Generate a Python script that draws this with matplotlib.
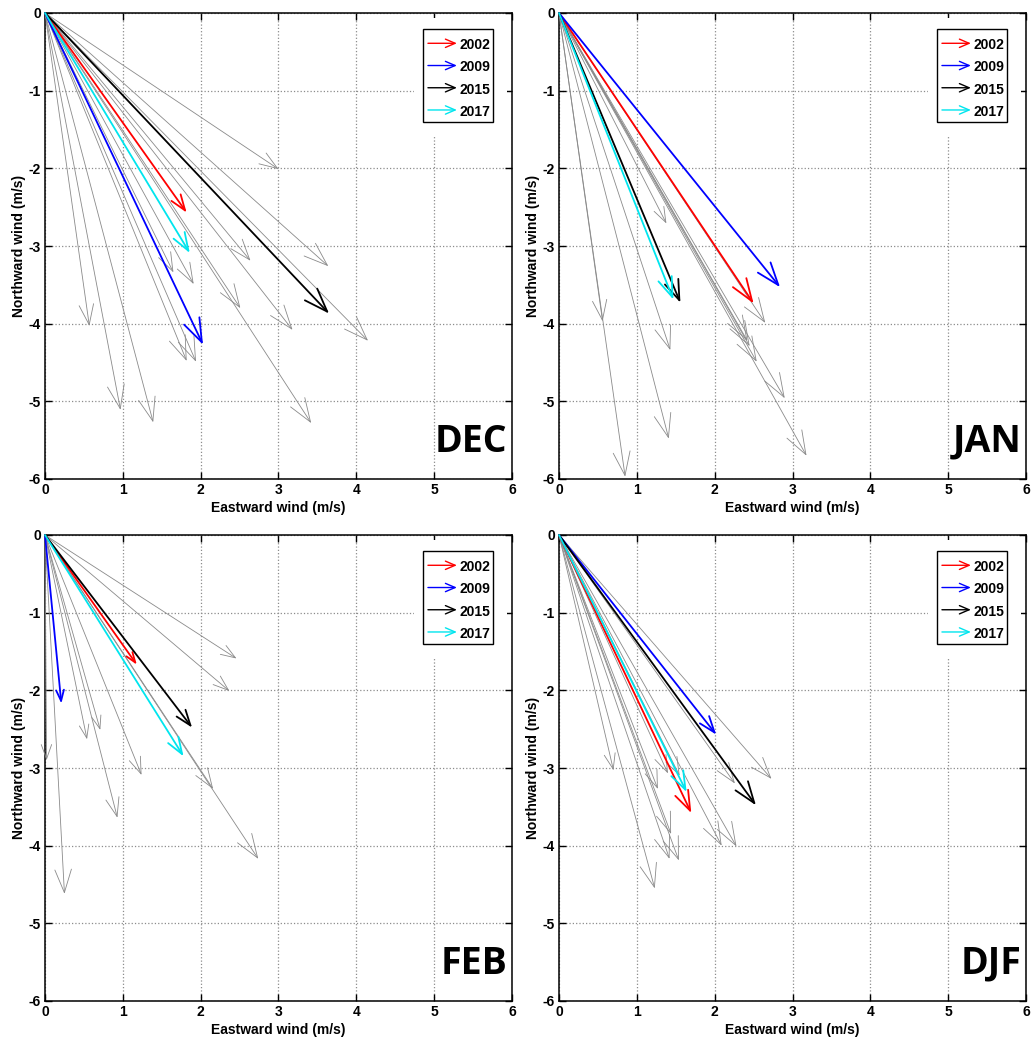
import matplotlib
matplotlib.use("Agg")
import matplotlib.pyplot as plt
import numpy as np
from matplotlib.patches import Rectangle

plt.rcParams["axes.unicode_minus"] = False

# highlighted years and their colours
years_hi = [2002, 2009, 2015, 2017]
colors_hi = ["#ff0000", "#0000ff", "#000000", "#00e5ee"]
panel_names = ["DEC", "JAN", "FEB", "DJF"]

# mean wind vectors (u east, v north) for highlighted years, per panel
dec_u_hi = [1.82, 2.03, 3.65, 1.86]
dec_v_hi = [-2.57, -4.27, -3.87, -3.09]
jan_u_hi = [2.50, 2.84, 1.56, 1.47]
jan_v_hi = [-3.74, -3.53, -3.73, -3.69]
feb_u_hi = [1.18, 0.21, 1.89, 1.78]
feb_v_hi = [-1.67, -2.17, -2.48, -2.85]
djf_u_hi = [1.70, 2.02, 2.53, 1.64]
djf_v_hi = [-3.58, -2.57, -3.48, -3.31]

# other years (gray)
dec_u_gray = [3.00, 1.65, 1.91, 2.64, 3.64, 2.51, 3.18, 4.15, 1.82, 1.94, 3.42, 1.39, 0.97, 0.57]
dec_v_gray = [-2.01, -3.34, -3.49, -3.19, -3.26, -3.80, -4.08, -4.22, -4.48, -4.49, -5.28, -5.27, -5.11, -4.03]
jan_u_gray = [1.38, 2.65, 1.43, 2.45, 2.42, 2.54, 2.90, 3.18, 1.41, 0.85, 0.56]
jan_v_gray = [-2.71, -3.99, -4.34, -4.29, -4.22, -4.49, -4.96, -5.70, -5.48, -5.97, -3.97]
feb_u_gray = [2.46, 2.37, 2.16, 2.74, 1.24, 0.93, 0.71, 0.54, 0.25, 0.02]
feb_v_gray = [-1.59, -2.01, -3.27, -4.17, -3.09, -3.64, -2.51, -2.63, -4.62, -2.90]
djf_u_gray = [0.70, 1.27, 1.40, 1.55, 2.26, 2.73, 1.44, 1.42, 1.54, 2.09, 2.28, 1.23]
djf_v_gray = [-3.03, -3.27, -3.07, -3.10, -3.20, -3.14, -3.85, -4.17, -4.19, -4.00, -4.01, -4.55]

panels = [
    (dec_u_gray, dec_v_gray, dec_u_hi, dec_v_hi),
    (jan_u_gray, jan_v_gray, jan_u_hi, jan_v_hi),
    (feb_u_gray, feb_v_gray, feb_u_hi, feb_v_hi),
    (djf_u_gray, djf_v_gray, djf_u_hi, djf_v_hi),
]

W, H = 1034, 1043
positions = [(45, 13), (559, 13), (45, 535), (559, 535)]  # left, top in px
AW, AH = 467, 466

TICKFONT = dict(family="Liberation Sans", weight="bold", size=10)


def arrow(ax, u, v, color, lw):
    L = np.hypot(u, v)
    hl = min(0.064 * L * 77.8 / 1.389, 17)
    hw = hl * 0.36
    ax.annotate("", xy=(u, v), xytext=(0, 0),
                arrowprops=dict(arrowstyle=f"->,head_length={hl:.2f},head_width={hw:.2f}",
                                color=color, lw=lw, shrinkA=0, shrinkB=0,
                                mutation_scale=1))


fig = plt.figure(figsize=(W / 100, H / 100), dpi=100)
fig.patch.set_facecolor("white")

for (ug, vg, uh, vh), name, (px, py) in zip(panels, panel_names, positions):
    ax = fig.add_axes([px / W, 1 - (py + AH) / H, AW / W, AH / H])
    ax.set_xlim(0, 6)
    ax.set_ylim(-6, 0)
    ax.set_xticks(range(0, 7))
    ax.set_yticks(range(-6, 1))
    ax.grid(True, linestyle=":", color="#8c8c8c", lw=0.9)
    ax.tick_params(direction="in", top=True, right=True, length=5, width=1, pad=3)
    for lab in ax.get_xticklabels() + ax.get_yticklabels():
        lab.set_fontproperties(matplotlib.font_manager.FontProperties(**TICKFONT))
    for s in ax.spines.values():
        s.set_linewidth(1.1)
    ax.set_xlabel("Eastward wind (m/s)", fontdict=TICKFONT, labelpad=3)
    ax.set_ylabel("Northward wind (m/s)", fontdict=TICKFONT, labelpad=2)

    for u, v in zip(ug, vg):
        arrow(ax, u, v, "#8a8a8a", 0.6)
    for u, v, c in zip(uh, vh, colors_hi):
        arrow(ax, u, v, c, 1.3)

    # legend (MATLAB style, arrow glyphs)
    ax.add_patch(Rectangle((0.79, 0.735), 0.2, 0.255, transform=ax.transAxes,
                           facecolor="white", edgecolor="none", zorder=3))
    ax.add_patch(Rectangle((0.809, 0.766), 0.15, 0.2, transform=ax.transAxes,
                           facecolor="white", edgecolor="black", lw=1.0, zorder=4))
    for i, (yr, c) in enumerate(zip(years_hi, colors_hi)):
        yy = 0.931 - i * 0.0477
        ax.annotate("", xy=(0.882, yy + 0.004), xytext=(0.82, yy + 0.004),
                    xycoords="axes fraction", textcoords="axes fraction",
                    arrowprops=dict(arrowstyle="->,head_length=7,head_width=3",
                                    color=c, lw=1.0, shrinkA=0, shrinkB=0,
                                    mutation_scale=1), zorder=5)
        ax.text(0.887, yy, str(yr), transform=ax.transAxes, ha="left", va="center",
                fontdict=TICKFONT, zorder=5)

    ax.text(0.99, 0.058, name, transform=ax.transAxes, ha="right", va="baseline",
            family="Open Sans", weight="bold", fontsize=27)

fig.savefig("out.png", dpi=100, facecolor="white")
